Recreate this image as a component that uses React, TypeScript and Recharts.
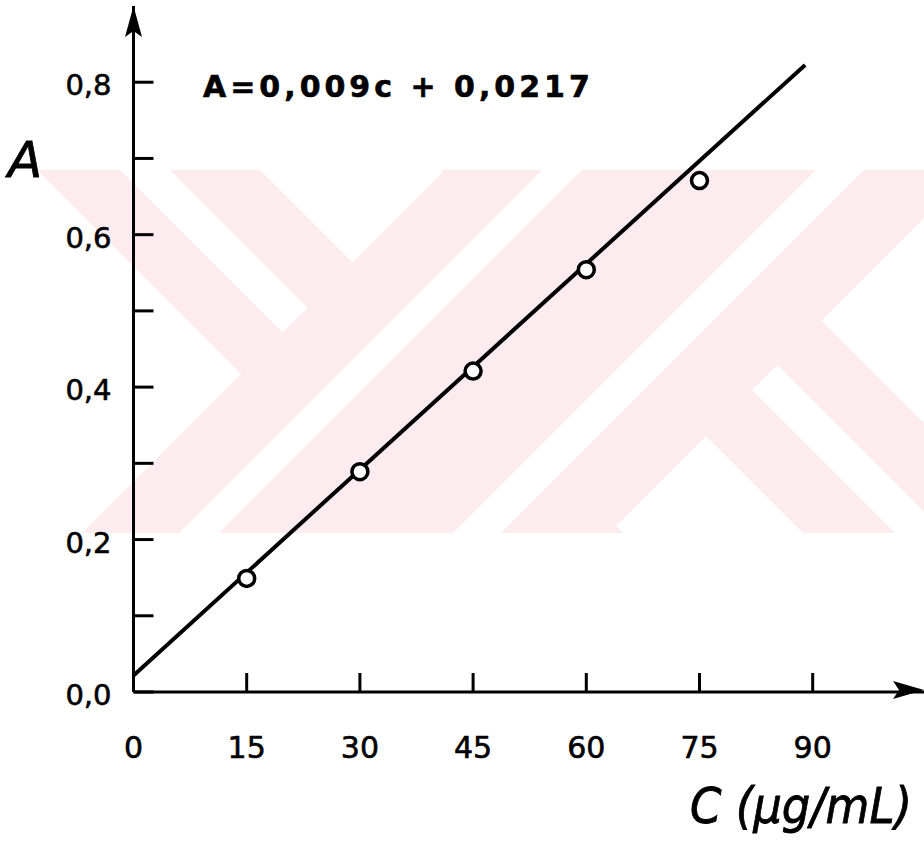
import React from 'react';
import { ComposedChart, Line, Scatter, XAxis, YAxis, ReferenceDot } from 'recharts';

// Calibration standards: concentration (µg/mL) and measured absorbance
const concentrations = [15, 30, 45, 60, 75];
const absorbances = [0.149, 0.289, 0.421, 0.554, 0.671];

// Regression line stated on the plot: A = 0,009c + 0,0217
const SLOPE = 0.009;
const INTERCEPT = 0.0217;
const fitRange = [0, 89];

// Axis ticks
const xTicks = [0, 15, 30, 45, 60, 75, 90];
const yTicks = [0, 0.1, 0.2, 0.3, 0.4, 0.5, 0.6, 0.7, 0.8];
const yLabelled = [0, 0.2, 0.4, 0.6, 0.8];

const X_MAX = 104.75;
const Y_MAX = 0.9;

const points = concentrations.map((c, i) => ({ c, a: absorbances[i] }));
const fitLine = fitRange.map((c) => ({ c, fit: SLOPE * c + INTERCEPT }));

const W = 924;
const H = 843;
const INK = '#000';
const WATERMARK = '#fdecef';

const comma = (v: number) => v.toFixed(1).replace('.', ',');

const XTick = (props: any) => {
  const { x, y, payload } = props;
  return (
    <g>
      <line x1={x} y1={y} x2={x} y2={y - 19} stroke={INK} strokeWidth={3} />
      <text
        x={x}
        y={y + 66}
        textAnchor="middle"
        fontFamily="'DejaVu Sans', sans-serif"
        fontSize={30}
        fill={INK}
        stroke={INK}
        strokeWidth={0.6}
      >
        {payload.value}
      </text>
    </g>
  );
};

const YTick = (props: any) => {
  const { x, y, payload } = props;
  const v = payload.value as number;
  const labelled = yLabelled.some((t) => Math.abs(t - v) < 1e-6);
  return (
    <g>
      <line x1={x} y1={y} x2={x + 20} y2={y} stroke={INK} strokeWidth={3} />
      {labelled && (
        <text
          x={x - 22}
          y={y + 13}
          textAnchor="end"
          fontFamily="'DejaVu Sans', sans-serif"
          fontSize={29}
          fill={INK}
          stroke={INK}
          strokeWidth={0.6}
        >
          {comma(v)}
        </text>
      )}
    </g>
  );
};

const ArrowUp = (p: any) => {
  const { cx, cy } = p;
  return (
    <polygon
      points={`${cx},${cy} ${cx + 8.5},${cy + 31} ${cx},${cy + 25} ${cx - 8.5},${cy + 31}`}
      fill={INK}
    />
  );
};

const ArrowRight = (p: any) => {
  const { cx, cy } = p;
  return (
    <polygon
      points={`${cx},${cy - 2} ${cx - 31},${cy + 7} ${cx - 25},${cy - 2} ${cx - 31},${cy - 11}`}
      fill={INK}
    />
  );
};

const Circle = (p: any) => (
  <circle cx={p.cx} cy={p.cy} r={8} fill="#fff" stroke={INK} strokeWidth={3.5} />
);

// Background watermark built from diagonal strips
const BAND_TOP = 170;
const BAND_BOT = 533;
const back = (a: number, b: number) =>
  `${BAND_TOP + a},${BAND_TOP} ${BAND_TOP + b},${BAND_TOP} ${BAND_BOT + b},${BAND_BOT} ${BAND_BOT + a},${BAND_BOT}`;
const fwd = (a: number, b: number) =>
  `${a - BAND_TOP},${BAND_TOP} ${b - BAND_TOP},${BAND_TOP} ${b - BAND_BOT},${BAND_BOT} ${a - BAND_BOT},${BAND_BOT}`;

const Watermark = () => (
  <svg width={W} height={H} style={{ position: 'absolute', left: 0, top: 0 }}>
    <defs>
      <clipPath id="band">
        <rect x={0} y={BAND_TOP} width={W} height={BAND_BOT - BAND_TOP} />
      </clipPath>
    </defs>
    <g clipPath="url(#band)">
      <polygon points={back(-133, 90)} fill={WATERMARK} />
      <polygon points={fwd(615, 1142)} fill={WATERMARK} />
      <polygon points={back(270, 501)} fill={WATERMARK} />
      <polygon points="120,170 170,170 307.5,307.5 282.5,332.5" fill="#fff" />
      <polygon points="752,390 777,365 945,533 895,533" fill="#fff" />
      <polygon points={fwd(712, 752)} fill="#fff" />
      <polygon points={fwd(986, 1034)} fill="#fff" />
    </g>
  </svg>
);

const Annotations = () => (
  <svg width={W} height={H} style={{ position: 'absolute', left: 0, top: 0, pointerEvents: 'none' }}>
    <text
      x={8}
      y={177}
      fontFamily="'DejaVu Sans', sans-serif"
      fontStyle="italic"
      fontSize={50}
      fill={INK}
      stroke={INK}
      strokeWidth={0.8}
    >
      A
    </text>
    <text
      x={203}
      y={97}
      fontFamily="'DejaVu Sans', sans-serif"
      fontWeight="bold"
      fontSize={30}
      letterSpacing={4}
      fill={INK}
      stroke={INK}
      strokeWidth={0.6}
    >
      A=0,009c + 0,0217
    </text>
    <text
      x={912}
      y={823}
      textAnchor="end"
      fontFamily="'DejaVu Sans Condensed', 'DejaVu Sans', sans-serif"
      fontStretch="condensed"
      fontStyle="italic"
      fontSize={50}
      fill={INK}
      stroke={INK}
      strokeWidth={0.8}
    >
      C (µg/mL)
    </text>
  </svg>
);

export default function App() {
  return (
    <div style={{ position: 'absolute', left: 0, top: 0, width: W, height: H, background: '#fff' }}>
      <Watermark />
      <div style={{ position: 'absolute', left: 0, top: 0 }}>
        <ComposedChart width={W} height={H} margin={{ top: 6, right: 0, bottom: 91, left: 73.5 }}>
          <XAxis
            dataKey="c"
            type="number"
            domain={[0, X_MAX]}
            ticks={xTicks}
            allowDataOverflow
            height={60}
            tickSize={0}
            tickMargin={0}
            tick={<XTick />}
            axisLine={{ stroke: INK, strokeWidth: 3 }}
            tickLine={false}
          />
          <YAxis
            type="number"
            domain={[0, Y_MAX]}
            ticks={yTicks}
            allowDataOverflow
            width={60}
            tickSize={0}
            tickMargin={0}
            tick={<YTick />}
            axisLine={{ stroke: INK, strokeWidth: 3 }}
            tickLine={false}
            interval={0}
          />
          <Line
            data={fitLine}
            dataKey="fit"
            type="linear"
            stroke={INK}
            strokeWidth={4}
            dot={false}
            activeDot={false}
            isAnimationActive={false}
          />
          <Scatter data={points} dataKey="a" shape={<Circle />} isAnimationActive={false} />
          <ReferenceDot x={X_MAX} y={0} r={0} ifOverflow="visible" shape={(p: any) => <ArrowRight {...p} />} />
          <ReferenceDot x={0} y={Y_MAX} r={0} ifOverflow="visible" shape={(p: any) => <ArrowUp {...p} />} />
        </ComposedChart>
      </div>
      <Annotations />
    </div>
  );
}
